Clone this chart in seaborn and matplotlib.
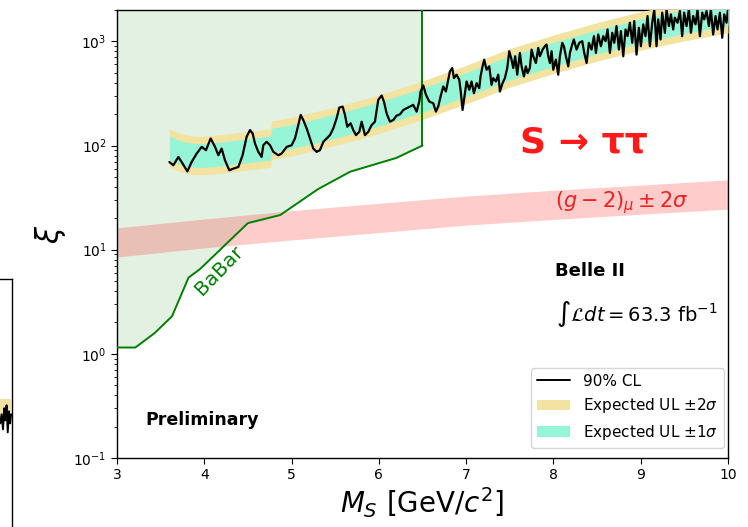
import numpy as np
import matplotlib
matplotlib.use("Agg")
import matplotlib.pyplot as plt
import seaborn as sns
from matplotlib.lines import Line2D
from matplotlib.patches import Patch

# ---------------- data ----------------
# observed 90% CL upper limit
obs_x = [3.600, 3.645, 3.703, 3.752, 3.806, 3.855, 3.913, 3.970, 4.019, 4.073,
         4.123, 4.161, 4.199, 4.237, 4.287, 4.333, 4.390, 4.439, 4.485, 4.524,
         4.554, 4.581, 4.619, 4.657, 4.676, 4.714, 4.753, 4.791, 4.848, 4.886,
         4.944, 5.001, 5.039, 5.077, 5.104, 5.134, 5.173, 5.211, 5.249, 5.287,
         5.325, 5.364, 5.402, 5.440, 5.478, 5.516, 5.547, 5.585, 5.612, 5.638,
         5.677, 5.707, 5.738, 5.776, 5.803, 5.841, 5.879, 5.917, 5.955, 5.993,
         6.032, 6.058, 6.089, 6.127, 6.165, 6.203, 6.242, 6.280, 6.318, 6.356,
         6.394, 6.433, 6.463, 6.478, 6.509, 6.540, 6.578, 6.623, 6.654, 6.680,
         6.707, 6.738, 6.768, 6.795, 6.814, 6.841, 6.860, 6.890, 6.921, 6.936,
         6.959, 6.986, 7.005, 7.036, 7.062, 7.089, 7.120, 7.150, 7.165, 7.188,
         7.207, 7.234, 7.265, 7.291, 7.310, 7.341, 7.368, 7.387, 7.417, 7.444,
         7.471, 7.494, 7.520, 7.540, 7.562, 7.585, 7.616, 7.635, 7.662, 7.684,
         7.704, 7.730, 7.750, 7.769, 7.799, 7.826, 7.845, 7.876, 7.902, 7.921,
         7.941, 7.960, 7.979, 7.998, 8.028, 8.055, 8.074, 8.101, 8.120, 8.143,
         8.170, 8.189, 8.215, 8.234, 8.265, 8.296, 8.330, 8.353, 8.380, 8.406,
         8.437, 8.464, 8.487, 8.513, 8.544, 8.571, 8.597, 8.620, 8.647, 8.674,
         8.697, 8.723, 8.750, 8.773, 8.800, 8.826, 8.849, 8.876, 8.903, 8.926,
         8.952, 8.979, 9.002, 9.029, 9.055, 9.078, 9.105, 9.132, 9.155, 9.181,
         9.200, 9.227, 9.246, 9.277, 9.296, 9.323, 9.346, 9.372, 9.391, 9.422,
         9.449, 9.475, 9.498, 9.525, 9.552, 9.575, 9.601, 9.628, 9.651, 9.678,
         9.705, 9.727, 9.754, 9.781, 9.804, 9.830, 9.857, 9.880, 9.907, 9.934,
         9.957, 9.983, 10.000]
obs_y = [69.5, 64.6, 77.7, 67.0, 56.5, 69.5, 83.7, 97.1, 90.2, 116.9,
         97.1, 80.7, 93.5, 72.2, 57.8, 60.0, 62.2, 80.7, 121.3, 140.6,
         130.6, 104.5, 86.9, 77.7, 100.7, 108.5, 100.7, 86.9, 80.7, 83.7,
         97.1, 100.7, 116.9, 157.2, 196.4, 175.8, 146.0, 116.9, 93.5, 86.9,
         90.2, 108.5, 116.9, 125.9, 146.0, 182.4, 231.2, 236.5, 196.4, 151.4,
         163.2, 140.6, 125.9, 135.5, 169.3, 125.9, 135.5, 157.2, 169.3, 274.2,
         302.0, 264.2, 203.8, 169.3, 175.8, 193.5, 199.4, 219.4, 227.6, 236.5,
         245.5, 211.5, 264.2, 330.1, 377.4, 306.4, 264.2, 254.7, 211.5, 236.5,
         295.3, 368.9, 330.1, 427.8, 515.0, 554.6, 443.8, 478.4, 427.8, 342.6,
         219.4, 318.0, 412.1, 342.6, 412.1, 318.0, 397.2, 355.6, 460.7, 575.4,
         667.1, 534.2, 575.4, 382.7, 443.8, 412.1, 478.4, 330.1, 397.2, 443.8,
         554.6, 803.5, 667.1, 554.6, 719.2, 478.4, 774.2, 575.4, 460.7, 575.4,
         496.5, 554.6, 833.7, 719.2, 619.7, 865.2, 719.2, 833.7, 897.6, 931.5,
         719.2, 619.7, 803.5, 534.2, 667.1, 478.4, 719.2, 967.7, 897.6, 719.2,
         575.4, 774.2, 931.5, 1042, 833.7, 967.7, 1004, 774, 620, 968,
         834, 1122, 774, 1164, 898, 1122, 1004, 1301, 774, 1208,
         968, 1402, 834, 1254, 719, 1301, 1122, 1510, 968, 1566,
         746, 1350, 898, 1455, 1122, 1750, 898, 1510, 2030, 898,
         1625, 1042, 1885, 1208, 2030, 1402, 1816, 1301, 1687, 1510,
         1955, 1122, 1885, 1402, 2030, 1208, 1750, 1455, 2030, 1122,
         1885, 1625, 1955, 1402, 2030, 1164, 1750, 1301, 1885, 1081,
         1816, 1510, 2030]

# expected upper limit bands
exp_x = [3.6, 3.7, 3.8, 3.9, 4.0, 4.2, 4.4, 4.6, 4.76, 4.77, 5.0, 5.5, 6.0,
         6.5, 7.0, 7.5, 8.0, 8.5, 9.0, 9.5, 10.0]
exp_lo2 = [61.7, 56.9, 53.7, 52.5, 52.5, 54.3, 56.9, 59.6, 61.7, 73.3, 79.4,
           100.0, 130.3, 177.8, 251.2, 363.1, 489.8, 645.7, 822.2, 1012, 1202]
exp_lo1 = [72.4, 66.8, 63.1, 61.7, 61.7, 63.8, 66.8, 70.0, 72.4, 86.1, 93.3,
           117.5, 153.1, 208.9, 295.1, 426.6, 575.4, 758.6, 966.1, 1189, 1413]
exp_hi1 = [123.0, 113.5, 107.2, 104.7, 104.7, 108.4, 113.5, 118.9, 123.0, 146.2,
           158.5, 199.5, 260.0, 354.8, 501.2, 724.4, 977.2, 1288, 1641, 2018, 2399]
exp_hi2 = [144.5, 133.4, 125.9, 123.0, 123.0, 127.4, 133.4, 139.6, 144.5, 171.8,
           186.2, 234.4, 305.5, 416.9, 588.8, 851.1, 1148, 1514, 1928, 2371, 2818]

# BaBar exclusion boundary
babar_x = [3.0, 3.21, 3.43, 3.63, 3.82, 3.95, 4.5, 4.87, 5.3, 5.67, 6.2, 6.5]
babar_y = [1.15, 1.15, 1.58, 2.29, 5.4, 6.5, 18.0, 21.5, 38.0, 56.0, 76.0, 100.0]

# (g-2)_mu +- 2 sigma band
gm2_x = [3, 4, 5, 6, 7, 8, 9, 10]
gm2_lo = [8.5, 10.4, 12.4, 14.6, 17.2, 19.5, 21.9, 24.5]
gm2_hi = [16.2, 19.7, 23.7, 27.9, 32.7, 37.2, 41.7, 46.8]

# neighbouring (cropped) panel at the far left of the slide
left_x = [0.950, 0.956, 0.962, 0.967, 0.972, 0.977, 0.982, 0.987, 0.992, 0.996]
left_y = [0.52, 0.55, 0.50, 0.57, 0.53, 0.58, 0.49, 0.56, 0.52, 0.55]
left_lo = [0.53, 0.53, 0.53, 0.53, 0.53, 0.53, 0.53, 0.53, 0.53, 0.53]
left_hi = [0.60, 0.60, 0.60, 0.60, 0.60, 0.60, 0.60, 0.60, 0.60, 0.60]

xticks = [3, 4, 5, 6, 7, 8, 9, 10]

# ---------------- style ----------------
sns.set_style("ticks")
plt.rcParams['font.family'] = ['DejaVu Sans']
plt.rcParams['axes.edgecolor'] = 'black'
plt.rcParams['xtick.color'] = 'black'
plt.rcParams['ytick.color'] = 'black'
plt.rcParams['text.color'] = 'black'
plt.rcParams['axes.labelcolor'] = 'black'

YELLOW = '#f2e3a0'
GREEN = '#96f5d6'

fig = plt.figure(figsize=(7.48, 5.27), dpi=100)
ax = fig.add_axes([117/748, 1-458/527, (728-117)/748, (458-10)/527])
ax.set_yscale('log')
ax.set_xlim(3, 10)
ax.set_ylim(0.1, 2000)
ytop = ax.get_ylim()[1]

# BaBar excluded region
ax.fill_between(babar_x, babar_y, ytop, color='green', alpha=0.11, lw=0, zorder=1)
# g-2 band
ax.fill_between(gm2_x, gm2_lo, gm2_hi, color='red', alpha=0.2, lw=0, zorder=2)
# expected bands
ax.fill_between(exp_x, exp_lo2, exp_hi2, color=YELLOW, lw=0, zorder=3)
ax.fill_between(exp_x, exp_lo1, exp_hi1, color=GREEN, lw=0, zorder=4)
# BaBar line
ax.plot(babar_x, babar_y, color='green', lw=1.4, zorder=5)
ax.plot([babar_x[-1], babar_x[-1]], [babar_y[-1], ytop], color='green', lw=1.4, zorder=5)
# observed limit
sns.lineplot(x=obs_x, y=obs_y, ax=ax, color='black', lw=1.6, estimator=None,
             sort=False, zorder=6)

ax.set_xticks(xticks)
ax.set_xticklabels([str(t) for t in xticks])
ax.tick_params(axis='both', which='major', labelsize=10, direction='out', length=4)
ax.tick_params(axis='y', which='minor', direction='out', length=2)
for s in ax.spines.values():
    s.set_visible(True)
    s.set_linewidth(1.0)

ax.set_xlabel(r'$M_S\ [\mathrm{GeV}/c^2]$', fontsize=20, labelpad=2)
ax.set_ylabel(r'$\xi$', fontsize=22, labelpad=4)

# annotations
ax.text(4.17, 6.3, 'BaBar', color='green', fontsize=14.5, rotation=46,
        ha='center', va='center', zorder=7)
ax.text(0.765, 0.705, 'S \u2192 \u03c4\u03c4', transform=ax.transAxes, color='#ff1a1a',
        fontsize=26, fontweight='bold', ha='center', va='center', zorder=8)
ax.text(0.717, 0.571, r'$(g-2)_\mu \pm 2\sigma$', transform=ax.transAxes,
        color='#f02020', fontsize=15, ha='left', va='center', zorder=8)
ax.text(0.717, 0.417, 'Belle II', transform=ax.transAxes, fontsize=13,
        fontweight='bold', ha='left', va='center')
ax.text(0.719, 0.322, r'$\int\mathcal{L}dt = $63.3 fb$^{-1}$', transform=ax.transAxes,
        fontsize=14, ha='left', va='center')
ax.text(0.046, 0.085, 'Preliminary', transform=ax.transAxes, fontsize=12.5,
        fontweight='bold', ha='left', va='center')

handles = [Line2D([], [], color='black', lw=1.4),
           Patch(facecolor=YELLOW, edgecolor='none'),
           Patch(facecolor=GREEN, edgecolor='none')]
labels = ['90% CL', r'Expected UL $\pm 2\sigma$', r'Expected UL $\pm 1\sigma$']
ax.legend(handles, labels, loc='lower right', fontsize=11, frameon=True,
          bbox_to_anchor=(0.993, 0.022), borderaxespad=0.0, handlelength=2.2)

# cropped neighbour panel
ax0 = fig.add_axes([-0.3, -0.1, 0.3 + 12/748, 0.1 + (1 - 279/527)])
ax0.set_xlim(0, 1)
ax0.set_ylim(0, 1)
ax0.fill_between(left_x, left_lo, left_hi, color=YELLOW, lw=0)
ax0.plot(left_x, left_y, color='black', lw=1.4)
ax0.set_xticks([])
ax0.set_yticks([])
for s in ax0.spines.values():
    s.set_linewidth(1.0)

fig.savefig('out.png', dpi=100)
